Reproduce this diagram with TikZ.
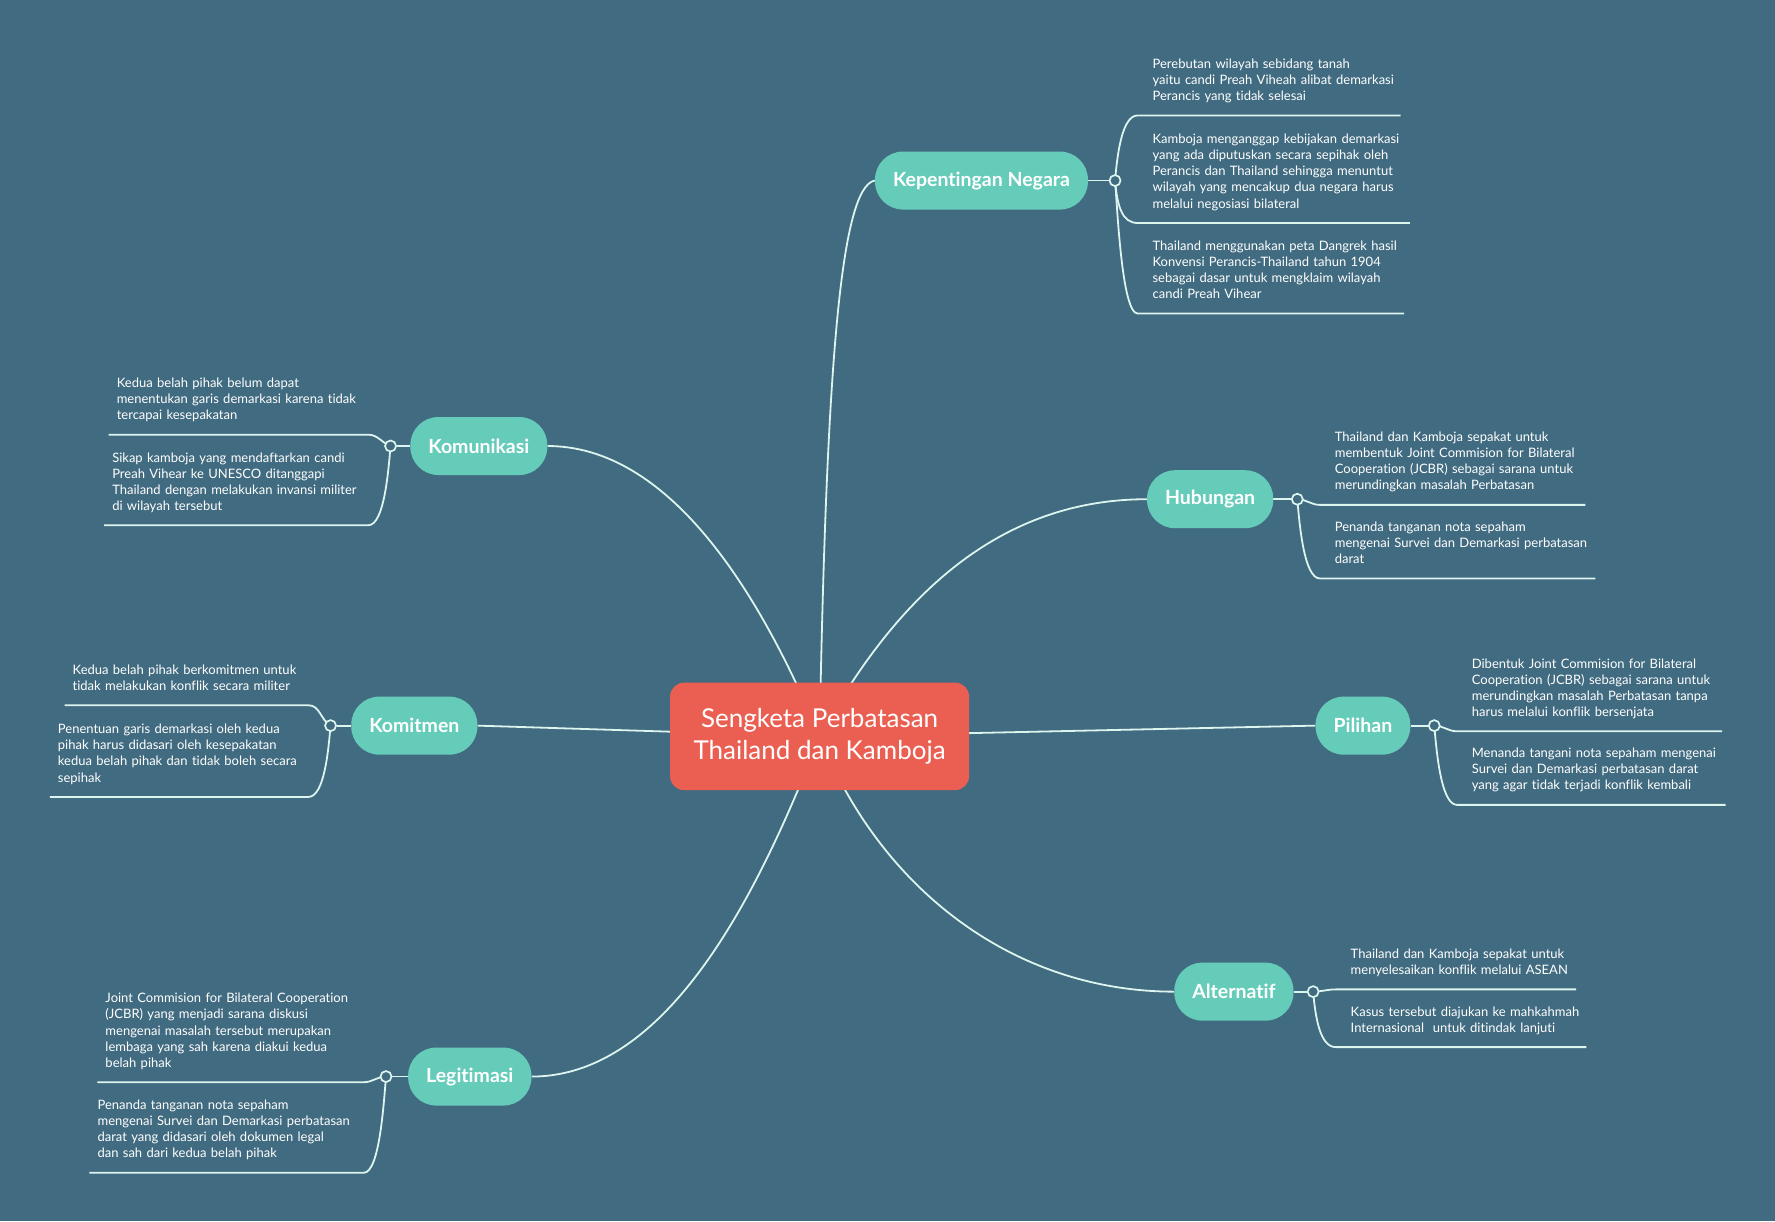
\documentclass[tikz,border=0pt]{standalone}
\usepackage{fontspec}
\setmainfont{Lato}[Ligatures={NoCommon}]
\pgfdeclarelayer{bgl}
\pgfdeclarelayer{edges}
\pgfsetlayers{bgl,edges,main}
\definecolor{bgc}{HTML}{416B80}
\definecolor{rootc}{HTML}{EB5F52}
\definecolor{topc}{HTML}{66CCBA}
\definecolor{linec}{HTML}{DDF5EF}
\tikzset{
  rootnode/.style={rectangle, rounded corners=14pt, fill=rootc, text=white,
    minimum width=299pt, minimum height=107.5pt, align=center,
    font=\fontsize{26}{32}\selectfont},
  topicnode/.style={rectangle, rounded corners=28pt, fill=topc, text=white,
    minimum height=58pt, inner xsep=18pt,
    font=\bfseries\fontsize{19.5}{22}\selectfont},
  knotnode/.style={circle, draw=linec, fill=bgc, line width=1.7pt,
    minimum size=11pt, inner sep=0pt},
  leafnode/.style={anchor=south west, inner xsep=0pt, inner ysep=9.9pt,
    align=left, text=white, execute at end node=\strut,
    font=\fontsize{13}{16.1}\selectfont},
  edgeline/.style={draw=linec, line width=1.8pt},
  vup/.style={out=85, in=180, out distance=25pt, in distance=16pt},
  vdown/.style={out=-85, in=180, out distance=25pt, in distance=16pt},
  flat/.style={out=0, in=180},
  vupL/.style={out=95, in=0, out distance=25pt, in distance=16pt},
  vdownL/.style={out=-95, in=0, out distance=25pt, in distance=16pt},
}
\begin{document}
\begin{tikzpicture}[x=1.132pt,y=-1.132pt]
\path[use as bounding box] (0,0) rectangle (1568,1079);
\begin{pgfonlayer}{bgl}
\fill[bgc] (0,0) rectangle (1568,1079);
\end{pgfonlayer}

% root
\node[rootnode] (root) at (724,650.5) {Sengketa Perbatasan\\Thailand dan Kamboja};

% topics
\node[topicnode] (t1) at (867,159.5) {Kepentingan Negara};
\node[topicnode] (t2) at (1069,441) {Hubungan};
\node[topicnode] (t3) at (1204,641) {Pilihan};
\node[topicnode] (t4) at (1090,876) {Alternatif};
\node[topicnode] (t5) at (423,394) {Komunikasi};
\node[topicnode] (t6) at (366,641) {Komitmen};
\node[topicnode] (t7) at (415,951) {Legitimasi};

% knots
\node[knotnode] (k1) at (985,159.5) {};
\node[knotnode] (k2) at (1146,441) {};
\node[knotnode] (k3) at (1267,641) {};
\node[knotnode] (k4) at (1160,876) {};
\node[knotnode] (k5) at (345,394) {};
\node[knotnode] (k6) at (292,641) {};
\node[knotnode] (k7) at (341,951) {};

% leaves right
\node[leafnode, text width=247.9pt] (l11) at (1018,102) {Perebutan wilayah sebidang tanah\\yaitu candi Preah Viheah alibat demarkasi\\Perancis yang tidak selesai};
\node[leafnode, text width=257pt] (l12) at (1018,197) {Kamboja menganggap kebijakan demarkasi\\yang ada diputuskan secara sepihak oleh\\Perancis dan Thailand sehingga menuntut\\wilayah yang mencakup dua negara harus\\melalui negosiasi bilateral};
\node[leafnode, text width=251.3pt] (l13) at (1018,277) {Thailand menggunakan peta Dangrek hasil\\Konvensi Perancis-Thailand tahun 1904\\sebagai dasar untuk mengklaim wilayah\\candi Preah Vihear};

\node[leafnode, text width=250.2pt] (l21) at (1179,446) {Thailand dan Kamboja sepakat untuk\\membentuk Joint Commision for Bilateral\\Cooperation (JCBR) sebagai sarana untuk\\merundingkan masalah Perbatasan};
\node[leafnode, text width=260.4pt] (l22) at (1179,511) {Penanda tanganan nota sepaham\\mengenai Survei dan Demarkasi perbatasan\\darat};

\node[leafnode, text width=250.2pt] (l31) at (1300,646) {Dibentuk Joint Commision for Bilateral\\Cooperation (JCBR) sebagai sarana untuk\\merundingkan masalah Perbatasan tanpa\\harus melalui konflik bersenjata};
\node[leafnode, text width=253.6pt] (l32) at (1300,711) {Menanda tangani nota sepaham mengenai\\Survei dan Demarkasi perbatasan darat\\yang agar tidak terjadi konflik kembali};

\node[leafnode, text width=225.3pt] (l41) at (1193,874) {Thailand dan Kamboja sepakat untuk\\menyelesaikan konflik melalui ASEAN};
\node[leafnode, text width=235.5pt] (l42) at (1193,925) {Kasus tersebut diajukan ke mahkahmah\\Internasional~ untuk ditindak lanjuti};

% leaves left
\node[leafnode, text width=251.3pt] (l51) at (103,384) {Kedua belah pihak belum dapat\\menentukan garis demarkasi karena tidak\\tercapai kesepakatan};
\node[leafnode, text width=255.8pt] (l52) at (99,464) {Sikap kamboja yang mendaftarkan candi\\Preah Vihear ke UNESCO ditanggapi\\Thailand dengan melakukan invansi militer\\di wilayah tersebut};

\node[leafnode, text width=235.5pt] (l61) at (64,623) {Kedua belah pihak berkomitmen untuk\\tidak melakukan konflik secara militer};
\node[leafnode, text width=250.2pt] (l62) at (51,704) {Penentuan garis demarkasi oleh kedua\\pihak harus didasari oleh kesepakatan\\kedua belah pihak dan tidak boleh secara\\sepihak};

\node[leafnode, text width=258.1pt] (l71) at (93,956) {Joint Commision for Bilateral Cooperation\\(JCBR) yang menjadi sarana diskusi\\mengenai masalah tersebut merupakan\\lembaga yang sah karena diakui kedua\\belah pihak};
\node[leafnode, text width=266pt] (l72) at (86,1036) {Penanda tanganan nota sepaham\\mengenai Survei dan Demarkasi perbatasan\\darat yang didasari oleh dokumen legal\\dan sah dari kedua belah pihak};

\begin{pgfonlayer}{edges}
% root to topics
\draw[edgeline] (root.center) .. controls (730,330) and (742,165) .. (t1.west);
\draw[edgeline] (root.center) .. controls (790,530) and (880,441) .. (t2.west);
\draw[edgeline] (root.center) -- (t3.west);
\draw[edgeline] (root.center) .. controls (780,790) and (900,876) .. (t4.west);
\draw[edgeline] (root.center) .. controls (670,520) and (590,394) .. (t5.east);
\draw[edgeline] (root.center) -- (t6.east);
\draw[edgeline] (root.center) .. controls (670,790) and (590,951) .. (t7.east);
% stubs
\draw[edgeline] (t1.east) -- (k1);
\draw[edgeline] (t2.east) -- (k2);
\draw[edgeline] (t3.east) -- (k3);
\draw[edgeline] (t4.east) -- (k4);
\draw[edgeline] (t5.west) -- (k5);
\draw[edgeline] (t6.west) -- (k6);
\draw[edgeline] (t7.west) -- (k7);
% right leaves
\draw[edgeline] (k1.center) to[vup] ([xshift=-14.7pt]l11.south west) -- (l11.south east);
\draw[edgeline] (k1.center) to[vdown] ([xshift=-14.7pt]l12.south west) -- (l12.south east);
\draw[edgeline] (k1.center) to[vdown] ([xshift=-14.7pt]l13.south west) -- (l13.south east);
\draw[edgeline] (k2.center) to[flat] ([xshift=-14.7pt]l21.south west) -- (l21.south east);
\draw[edgeline] (k2.center) to[vdown] ([xshift=-14.7pt]l22.south west) -- (l22.south east);
\draw[edgeline] (k3.center) to[flat] ([xshift=-14.7pt]l31.south west) -- (l31.south east);
\draw[edgeline] (k3.center) to[vdown] ([xshift=-14.7pt]l32.south west) -- (l32.south east);
\draw[edgeline] (k4.center) to[flat] ([xshift=-14.7pt]l41.south west) -- (l41.south east);
\draw[edgeline] (k4.center) to[vdown] ([xshift=-14.7pt]l42.south west) -- (l42.south east);
% left leaves
\draw[edgeline] (k5.center) to[out=160,in=0] (l51.south east) -- ([xshift=-7.9pt]l51.south west);
\draw[edgeline] (k5.center) to[vdownL] (l52.south east) -- ([xshift=-7.9pt]l52.south west);
\draw[edgeline] (k6.center) to[out=150,in=0] (l61.south east) -- ([xshift=-7.9pt]l61.south west);
\draw[edgeline] (k6.center) to[vdownL] (l62.south east) -- ([xshift=-7.9pt]l62.south west);
\draw[edgeline] (k7.center) to[out=180,in=0] (l71.south east) -- ([xshift=-7.9pt]l71.south west);
\draw[edgeline] (k7.center) to[vdownL] (l72.south east) -- ([xshift=-7.9pt]l72.south west);
\end{pgfonlayer}
\end{tikzpicture}
\end{document}
